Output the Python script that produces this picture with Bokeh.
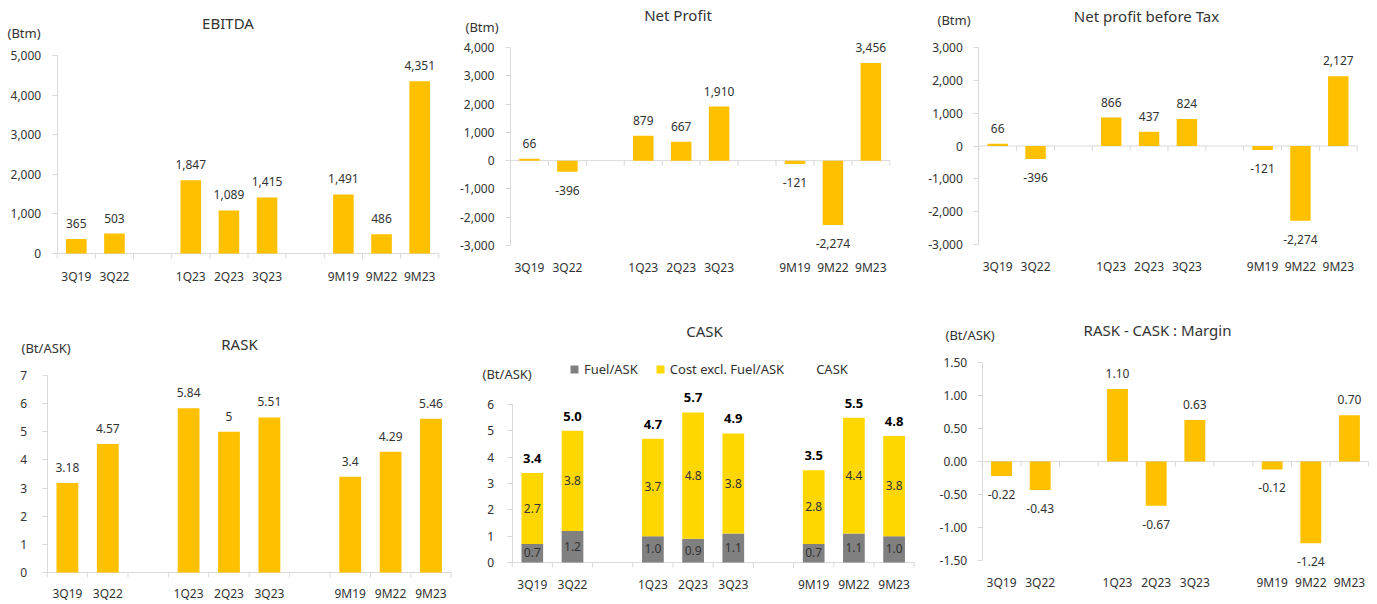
import math
from bokeh.plotting import figure
from bokeh.models import (Range1d, ColumnDataSource, LabelSet, Label, FixedTicker,
                          NumeralTickFormatter, Legend, LegendItem)
from bokeh.layouts import row, column
from bokeh.core.properties import value
from bokeh.embed import file_html
from bokeh.resources import INLINE

# ---------------- data ----------------
periods = ["3Q19", "3Q22", "1Q23", "2Q23", "3Q23", "9M19", "9M22", "9M23"]
slots = ["3Q19", "3Q22", "", "1Q23", "2Q23", "3Q23", "", "9M19", "9M22", "9M23"]

ebitda = [365, 503, 1847, 1089, 1415, 1491, 486, 4351]
net_profit = [66, -396, 879, 667, 1910, -121, -2274, 3456]
net_profit_before_tax = [66, -396, 866, 437, 824, -121, -2274, 2127]
rask = [3.18, 4.57, 5.84, 5.0, 5.51, 3.4, 4.29, 5.46]
fuel_ask = [0.7, 1.2, 1.0, 0.9, 1.1, 0.7, 1.1, 1.0]
cost_excl_fuel_ask = [2.7, 3.8, 3.7, 4.8, 3.8, 2.8, 4.4, 3.8]
cask = [3.4, 5.0, 4.7, 5.7, 4.9, 3.5, 5.5, 4.8]
margin = [-0.22, -0.43, 1.10, -0.67, 0.63, -0.12, -1.24, 0.70]

# ---------------- style ----------------
FONT = "Noto Sans"
TXT = "#333333"
AXC = "#d9d9d9"
GOLD = "#FFC000"
YELLOW = "#FFD700"
GRAY = "#808080"
BAR_W = 0.54

# category -> slot centre on the (numeric) category scale
xpos = [slots.index(c) + 0.5 for c in periods]
centres = [i + 0.5 for i, s in enumerate(slots) if s]
bounds_x = list(range(len(slots) + 1))


def panel(box, ax_px, end_px, ptop, pbot, fb, ymin, ymax, step, fmt, ystand, xstand):
    x0, y0, w, h = box
    s = (end_px - ax_px) / len(slots)
    xstart = -(ax_px - x0) / s
    ppu = (pbot - ptop) / (ymax - ymin)
    p = figure(width=w, height=h,
               x_range=Range1d(xstart, xstart + w / s),
               y_range=Range1d(ymin - (fb - pbot) / ppu, ymax + (ptop - y0) / ppu),
               output_backend="svg", toolbar_location=None,
               min_border_left=0, min_border_right=0, min_border_top=0,
               min_border_bottom=y0 + h - fb)
    p.outline_line_color = None
    p.background_fill_color = None
    p.border_fill_color = None
    p.xgrid.visible = False
    p.ygrid.visible = False
    n = int(round((ymax - ymin) / step))
    ticks = [round(ymin + i * step, 6) for i in range(n + 1)]
    ya = p.yaxis[0]
    ya.fixed_location = 0
    ya.ticker = FixedTicker(ticks=ticks)
    ya.formatter = NumeralTickFormatter(format=fmt)
    ya.bounds = (ymin, ymax)
    ya.axis_line_color = AXC
    ya.major_tick_line_color = AXC
    ya.major_tick_in = 0
    ya.major_tick_out = 5
    ya.minor_tick_line_color = None
    ya.major_label_standoff = ystand
    ya.major_label_text_font = FONT
    ya.major_label_text_font_size = "12px"
    ya.major_label_text_color = TXT
    xa = p.xaxis[0]
    xa.ticker = FixedTicker(ticks=centres)
    xa.major_label_overrides = {c: sl for c, sl in zip(centres, [x for x in slots if x])}
    xa.axis_line_color = None
    xa.major_tick_line_color = None
    xa.major_tick_out = 0
    xa.major_tick_in = 0
    xa.minor_tick_line_color = None
    xa.major_label_standoff = xstand
    xa.major_label_text_font = FONT
    xa.major_label_text_font_size = "12px"
    xa.major_label_text_color = TXT
    # category axis line at zero with boundary ticks
    p.segment(x0=[bounds_x[0]], y0=[0], x1=[bounds_x[-1]], y1=[0], line_color=AXC, line_width=1)
    p.ray(x=bounds_x, y=[0] * len(bounds_x), length=5, length_units="screen",
          angle=-math.pi / 2, line_color=AXC, line_width=1)
    p._fl = x0
    p._fb = fb
    return p


def add_text(p, ix, iy, text, size, align="center", bold=False, color=TXT):
    p.add_layout(Label(x=ix - p._fl, y=p._fb - iy, x_units="screen", y_units="screen",
                       text=text, text_align=align, text_baseline="middle",
                       text_font=FONT, text_font_size=size, text_color=color,
                       text_font_style="bold" if bold else "normal"))


def bars_with_labels(p, vals, texts, color=GOLD, pos_off=11, neg_off=-23):
    src = ColumnDataSource(dict(x=xpos, top=vals))
    p.vbar(x="x", top="top", bottom=0, width=BAR_W, source=src, fill_color=color, line_color=None)
    pos = ColumnDataSource(dict(x=[c for c, v in zip(xpos, vals) if v >= 0],
                                y=[v for v in vals if v >= 0],
                                t=[t for t, v in zip(texts, vals) if v >= 0]))
    neg = ColumnDataSource(dict(x=[c for c, v in zip(xpos, vals) if v < 0],
                                y=[v for v in vals if v < 0],
                                t=[t for t, v in zip(texts, vals) if v < 0]))
    for s, off in ((pos, pos_off), (neg, neg_off)):
        p.add_layout(LabelSet(x="x", y="y", text="t", source=s, y_offset=off,
                              text_align="center", text_baseline="alphabetic",
                              text_font=value(FONT), text_font_size="12px", text_color=TXT))


# ---------------- top row ----------------
p1 = panel((0, 0, 452, 300), 56.7, 438.3, 55, 253, 259, 0, 5000, 1000, "0,0", 11, 8)
bars_with_labels(p1, ebitda, [f"{v:,}" for v in ebitda])
add_text(p1, 227.5, 22.5, "EBITDA", "15px")
add_text(p1, 7, 32, "(Btm)", "13px", align="left")

p2 = panel((452, 0, 463, 300), 510, 889.3, 47, 245, 259, -3000, 4000, 1000, "0,0", 11, -1)
bars_with_labels(p2, net_profit, [f"{v:,}" for v in net_profit])
add_text(p2, 677.5, 14.5, "Net Profit", "15px")
add_text(p2, 465, 26, "(Btm)", "13px", align="left")

p3 = panel((915, 0, 462, 300), 978.3, 1356.7, 47, 244, 259, -3000, 3000, 1000, "0,0", 11, -2)
bars_with_labels(p3, net_profit_before_tax, [f"{v:,}" for v in net_profit_before_tax])
add_text(p3, 1146, 15, "Net profit before Tax", "15px")
add_text(p3, 937, 19, "(Btm)", "13px", align="left")

# ---------------- bottom row ----------------
p4 = panel((0, 300, 452, 304), 46.7, 450.7, 375, 572, 578, 0, 7, 1, "0", 15, 6)
bars_with_labels(p4, rask, [f"{v:g}" for v in rask])
add_text(p4, 239, 343, "RASK", "15px")
add_text(p4, 21, 347.5, "(Bt/ASK)", "13px", align="left")

p5 = panel((452, 300, 463, 304), 511.7, 913.7, 404, 562, 578, 0, 6, 1, "0", 13, -3)
csrc = ColumnDataSource(dict(x=xpos, fuel=fuel_ask, cost=cost_excl_fuel_ask, cask=cask,
                             fuel_mid=[f / 2 for f in fuel_ask],
                             cost_mid=[f + c / 2 for f, c in zip(fuel_ask, cost_excl_fuel_ask)],
                             fuel_t=[f"{f:.1f}" for f in fuel_ask],
                             cost_t=[f"{c:.1f}" for c in cost_excl_fuel_ask],
                             cask_t=[f"{c:.1f}" for c in cask]))
stack = p5.vbar_stack(["fuel", "cost"], x="x", width=BAR_W, source=csrc,
                      fill_color=[GRAY, YELLOW], line_color=None)
cask_r = p5.scatter(x="x", y="cask", source=csrc, size=1, fill_alpha=0, line_alpha=0)
for ycol, tcol in (("fuel_mid", "fuel_t"), ("cost_mid", "cost_t")):
    p5.add_layout(LabelSet(x="x", y=ycol, text=tcol, source=csrc, y_offset=-4,
                           text_align="center", text_baseline="alphabetic",
                           text_font=value(FONT), text_font_size="12px", text_color=TXT))
p5.add_layout(LabelSet(x="x", y="cask", text="cask_t", source=csrc, y_offset=10,
                       text_align="center", text_baseline="alphabetic",
                       text_font=value(FONT), text_font_size="13px", text_font_style="bold",
                       text_color="#000000"))
legend = Legend(items=[LegendItem(label="Fuel/ASK", renderers=[stack[0]]),
                       LegendItem(label="Cost excl. Fuel/ASK", renderers=[stack[1]]),
                       LegendItem(label="CASK", renderers=[cask_r])],
                orientation="horizontal", location=(117, 200), glyph_width=10, glyph_height=10,
                label_standoff=5, spacing=17, padding=0, margin=0, label_height=12,
                border_line_color=None, background_fill_alpha=0,
                label_text_font=FONT, label_text_font_size="13px", label_text_color=TXT)
p5.add_layout(legend)
add_text(p5, 704, 330, "CASK", "15px")
add_text(p5, 482, 373, "(Bt/ASK)", "13px", align="left")

p6 = panel((915, 300, 462, 304), 981.7, 1368.3, 362, 560, 578, -1.5, 1.5, 0.5, "0.00", 10, -5)
bars_with_labels(p6, margin, [f"{v:.2f}" for v in margin])
add_text(p6, 1157, 329.5, "RASK - CASK : Margin", "15px")
add_text(p6, 945, 334.5, "(Bt/ASK)", "13px", align="left")

layout = column(row(p1, p2, p3), row(p4, p5, p6))
open("out.html", "w").write(file_html(layout, INLINE))
